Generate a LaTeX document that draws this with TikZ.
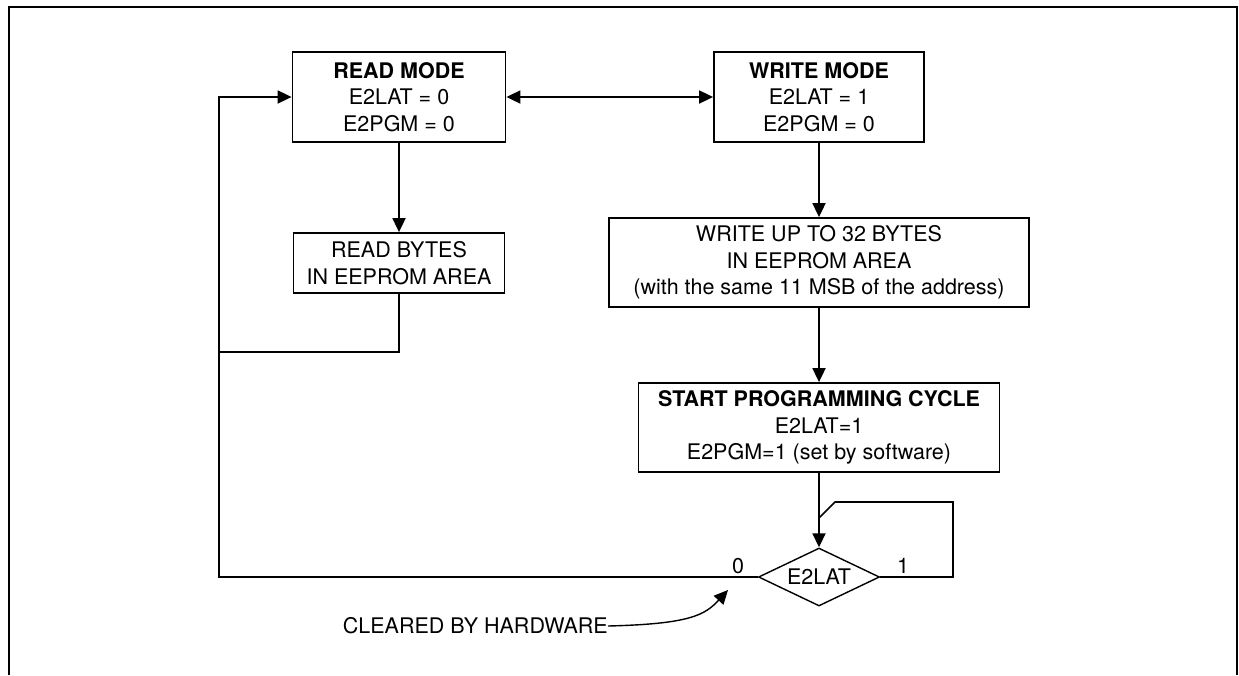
\documentclass[tikz,border=0pt]{standalone}
\usepackage{fontspec}
\setmainfont{TeX Gyre Heros}
\usepackage{tikz}
\usetikzlibrary{positioning, shapes.geometric, arrows.meta}
\tikzstyle{chart} = [x = 1pt, y = -1pt]
\tikzstyle{boxStyle} = [draw, line width = 1.8pt, align = center, inner sep = 0, font = \fontsize{21.5}{26.5}\selectfont]
\tikzstyle{decisionStyle} = [draw, diamond, aspect = 2.1, line width = 1.4pt, inner sep = 0, minimum width = 121pt, minimum height = 58pt, font = \fontsize{21.5}{26}\selectfont]
\tikzstyle{flowLine} = [line width = 1.8pt, -{Triangle[length = 14pt, width = 13pt]}]
\tikzstyle{plainLine} = [line width = 1.6pt]
\tikzstyle{labelText} = [inner sep = 0, font = \fontsize{21.5}{26}\selectfont]
\newcommand{\flowBox}[5]{\node [boxStyle, minimum width = #3pt, minimum height = #4pt] (#1) at (#2) {#5};}

\begin{document}
\begin{tikzpicture}[chart]
            \useasboundingbox (0,0) rectangle (1239,675);
            \draw [line width = 2.6pt] (9,675) -- (9,7) -- (1237,7) -- (1237,675);

            \flowBox{readMode}{399,97}{213}{90}{\textbf{READ MODE}\\E2LAT = 0\\E2PGM = 0}
            \flowBox{writeMode}{819,97}{210}{90}{\textbf{WRITE MODE}\\E2LAT = 1\\E2PGM = 0}
            \flowBox{readBytes}{399,263}{211}{60}{READ BYTES\\IN EEPROM AREA}
            \flowBox{writeBytes}{819,262.5}{420}{89}{WRITE UP TO 32 BYTES\\IN EEPROM AREA\\(with the same 11 MSB of the address)}
            \flowBox{startCycle}{819,427.5}{361}{89}{\textbf{START PROGRAMMING CYCLE}\\E2LAT=1\\E2PGM=1 (set by software)}
            \node [decisionStyle] (e2lat) at (819,577) {E2LAT};

            \node [labelText] (zeroLabel) at (738,566) {0};
            \node [labelText] (oneLabel) at (903,566) {1};
            \node [labelText, anchor = east] (cleared) at (608,626) {CLEARED BY HARDWARE};

            \coordinate (returnCorner) at (219,577);
            \coordinate (readJoin) at (219,352);
            \coordinate (loopRight) at (953,577);
            \coordinate (loopTop) at (953,502);
            \coordinate (loopBend) at (835,502);
            \coordinate (loopIn) at (819,518);
            \coordinate (clearedTip) at (728,590);

            \draw [flowLine, {Triangle[length = 14pt, width = 13pt]}-{Triangle[length = 14pt, width = 13pt]}] (readMode.east) -- (writeMode.west);
            \draw [flowLine] (readMode.south) -- (readBytes.north);
            \draw [flowLine] (writeMode.south) -- (writeBytes.north);
            \draw [flowLine] (writeBytes.south) -- (startCycle.north);
            \draw [flowLine] (startCycle.south) -- (e2lat.north);
            \draw [flowLine] (e2lat.west) -- (returnCorner) |- (readMode.west);
            \draw [plainLine] (readBytes.south) |- (readJoin);
            \draw [plainLine] (e2lat.east) -- (loopRight) -- (loopTop) -- (loopBend) -- (loopIn);
            \draw [flowLine, line width = 1.4pt] (cleared.east) .. controls (690,624) and (705,615) .. (clearedTip);
          \end{tikzpicture}
\end{document}
